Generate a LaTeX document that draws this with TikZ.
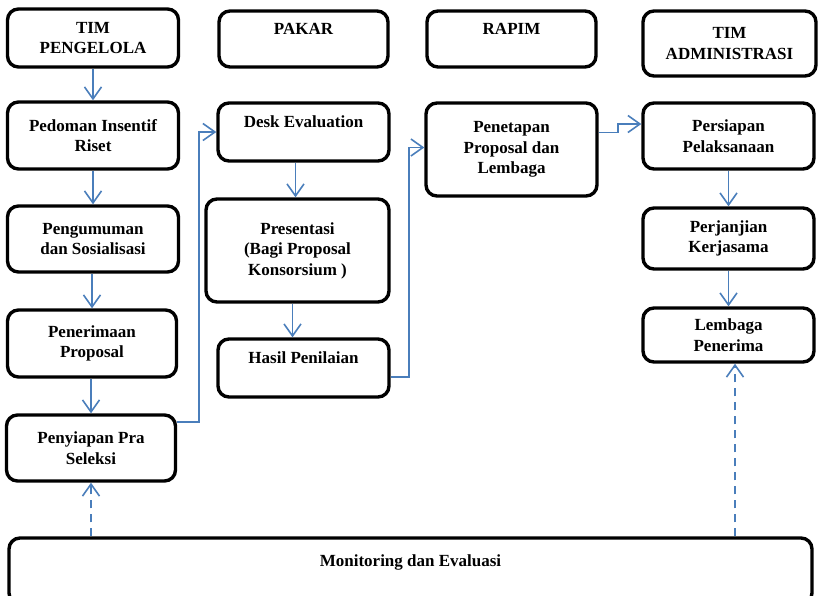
\documentclass[tikz,border=0pt]{standalone}
\usepackage{fontspec}
\setmainfont{Liberation Serif}
\usetikzlibrary{arrows.meta}
\definecolor{flowblue}{RGB}{74,126,187}
\tikzset{
	box/.style={draw, line width=3.4pt, rounded corners=11pt, align=center, inner sep=0pt,
		font=\fontsize{17}{20.5}\selectfont\bfseries},
	flow/.style={draw=flowblue, line width=1.6pt, -{Straight Barb[length=12pt,width=17pt,line width=1.6pt]}},
	dflow/.style={flow, dash pattern=on 8pt off 6pt},
}
\begin{document}
\begin{tikzpicture}[x=1pt,y=-1pt]
		\useasboundingbox (0,0) rectangle (818,595);
		% tim pengelola
		\node[box, minimum width=171, minimum height=58] (tpeng) at (93,38) {TIM\\PENGELOLA};
		\node[box, minimum width=171, minimum height=67] (pedoman) at (93,135.5) {Pedoman Insentif\\Riset};
		\node[box, minimum width=171, minimum height=66] (umum) at (93,239) {Pengumuman\\dan Sosialisasi};
		\node[box, minimum width=169, minimum height=67] (terima) at (92,343.5) {Penerimaan\\Proposal};
		\node[box, minimum width=169, minimum height=66] (praseleksi) at (91,448) {Penyiapan Pra\\Seleksi};
		% pakar
		\node[box, minimum width=169, minimum height=56] (pakar) at (303.5,39) {PAKAR\\\mbox{}};
		\node[box, minimum width=171, minimum height=58] (desk) at (303.5,132) {Desk Evaluation\\\mbox{}};
		\node[box, minimum width=183, minimum height=103] (presentasi) at (297.5,250.5) {Presentasi\\(Bagi Proposal\\Konsorsium )};
		\node[box, minimum width=171, minimum height=58] (hasil) at (303.5,368) {Hasil Penilaian\\\mbox{}};
		% rapim
		\node[box, minimum width=169, minimum height=56] (rapim) at (511.5,39) {RAPIM\\\mbox{}};
		\node[box, minimum width=171, minimum height=93] (penetapan) at (511.5,149.5) {Penetapan\\Proposal dan\\Lembaga};
		% tim administrasi
		\node[box, minimum width=173, minimum height=65] (tadmin) at (729.5,43.5) {TIM\\ADMINISTRASI};
		\node[box, minimum width=171, minimum height=66] (persiapan) at (728.5,136) {Persiapan\\Pelaksanaan};
		\node[box, minimum width=171, minimum height=61] (perjanjian) at (728.5,238.5) {Perjanjian\\Kerjasama};
		\node[box, minimum width=171, minimum height=54] (lembaga) at (728.5,335) {Lembaga\\Penerima};
		\node[box, minimum width=803, minimum height=66] (monev) at (410.5,571) {Monitoring dan Evaluasi\\\mbox{}};
		% alur
		\draw[flow] (tpeng) -- (pedoman);
		\draw[flow] (pedoman) -- (umum);
		\draw[flow] (umum.south -| terima) -- (terima);
		\draw[flow] (terima.south -| praseleksi) -- (praseleksi);
		\draw[flow] ([yshift=26pt]praseleksi.east) -- ++(22,0) |- (desk.west);
		\draw[flow] ([xshift=-8pt]desk.south) -- ([xshift=-8pt]desk.south |- presentasi.north);
		\draw[flow] ([xshift=-11pt]hasil.north |- presentasi.south) -- ([xshift=-11pt]hasil.north);
		\draw[flow] ([yshift=-9pt]hasil.east) -- ++(18,0) |- ([yshift=2pt]penetapan.west);
		\draw[flow] ([yshift=17pt]penetapan.east) -- ++(19,0) |- ([yshift=12pt]persiapan.west);
		\draw[flow] (persiapan) -- (perjanjian);
		\draw[flow] (perjanjian) -- (lembaga);
		\draw[dflow] (monev.north -| praseleksi) -- (praseleksi);
		\draw[dflow] ([xshift=6.5pt]lembaga.south |- monev.north) -- ([xshift=6.5pt]lembaga.south);
\end{tikzpicture}
\end{document}
